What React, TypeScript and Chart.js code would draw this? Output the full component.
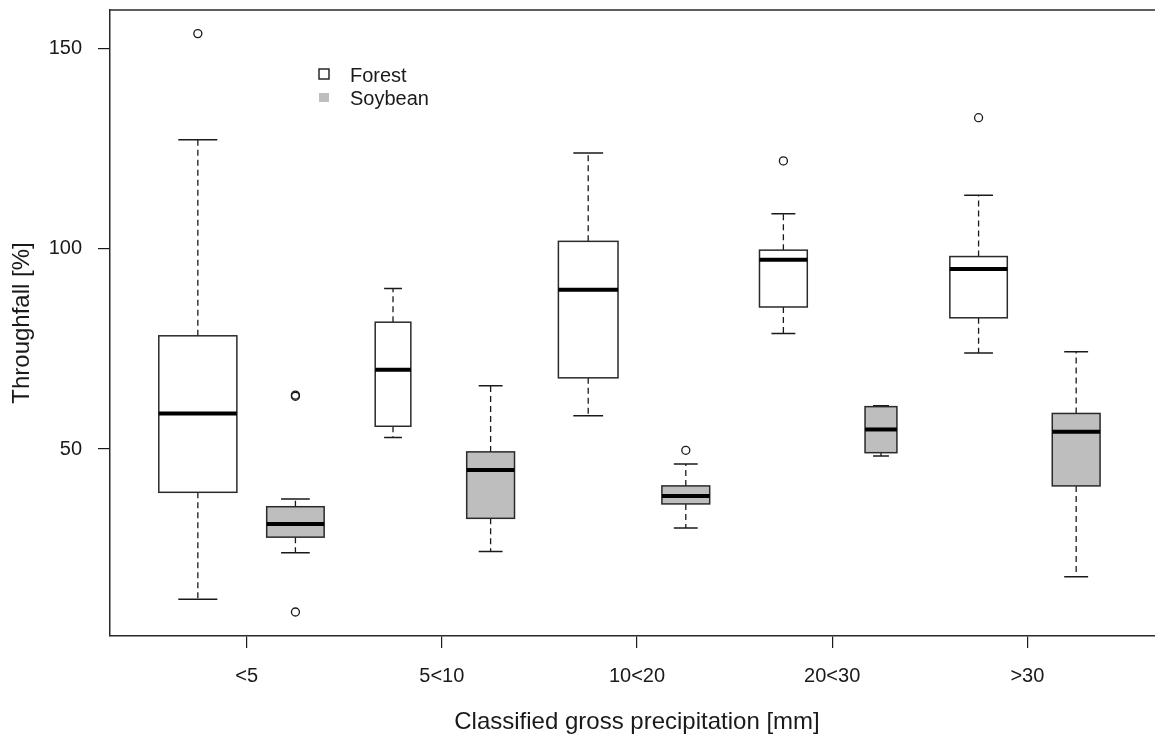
import React, { useEffect, useRef } from "react";
import { Chart, registerables } from "chart.js";

Chart.register(...registerables);

// ---------------- data ----------------
const categories = ["<5", "5<10", "10<20", "20<30", ">30"];
const groupNames = ["Forest", "Soybean"];
const yTickValues = [50, 100, 150];

const forestLowerWhisker = [12.5, 52.9, 58.3, 78.9, 74.0];
const forestQ1 = [39.2, 55.7, 67.8, 85.5, 82.8];
const forestMedian = [58.9, 69.8, 89.8, 97.3, 95.0];
const forestQ3 = [78.3, 81.7, 101.9, 99.7, 98.1];
const forestUpperWhisker = [127.3, 90.1, 124.0, 108.8, 113.4];
const forestOutliers = [[153.8], [], [], [122.0], [132.8]];
const forestN = [24, 5, 14, 9, 13];

const soyLowerWhisker = [24.1, 24.4, 30.3, 48.3, 18.1];
const soyQ1 = [28.0, 32.7, 36.3, 49.1, 40.8];
const soyMedian = [31.3, 44.8, 38.3, 54.9, 54.3];
const soyQ3 = [35.6, 49.3, 40.8, 60.6, 58.9];
const soyUpperWhisker = [37.5, 65.8, 46.3, 60.8, 74.3];
const soyOutliers = [[63.5, 63.2, 9.3], [], [49.7], [], []];
const soyN = [13, 9, 9, 4, 9];

// ---------------- styles ----------------
const FONT = "'Liberation Sans', Arial, Helvetica, sans-serif";
const INK = "#1a1a1a";
const groupFill = ["#ffffff", "#bebebe"];

type Box = {
  pos: number;
  lo: number;
  q1: number;
  med: number;
  q3: number;
  hi: number;
  n: number;
  group: number;
};

const boxes: Box[] = [];
categories.forEach((_, i) => {
  boxes.push({
    pos: 2 * i + 1,
    lo: forestLowerWhisker[i],
    q1: forestQ1[i],
    med: forestMedian[i],
    q3: forestQ3[i],
    hi: forestUpperWhisker[i],
    n: forestN[i],
    group: 0,
  });
  boxes.push({
    pos: 2 * i + 2,
    lo: soyLowerWhisker[i],
    q1: soyQ1[i],
    med: soyMedian[i],
    q3: soyQ3[i],
    hi: soyUpperWhisker[i],
    n: soyN[i],
    group: 1,
  });
});
const maxN = Math.max(...forestN, ...soyN);

const forestOutlierPoints = forestOutliers.flatMap((arr, i) =>
  arr.map((v) => ({ x: 2 * i + 1, y: v }))
);
const soyOutlierPoints = soyOutliers.flatMap((arr, i) =>
  arr.map((v) => ({ x: 2 * i + 2, y: v }))
);

const boxPlugin = {
  id: "boxplots",
  beforeDatasetsDraw(chart: any) {
    const { ctx, scales } = chart;
    const xs = scales.x;
    const ys = scales.y;
    const unit = xs.getPixelForValue(1) - xs.getPixelForValue(0);
    ctx.save();
    boxes.forEach((b) => {
      const cx = xs.getPixelForValue(b.pos);
      const hw = 0.4 * Math.sqrt(b.n / maxN) * unit;
      const yLo = ys.getPixelForValue(b.lo);
      const yQ1 = ys.getPixelForValue(b.q1);
      const yMed = ys.getPixelForValue(b.med);
      const yQ3 = ys.getPixelForValue(b.q3);
      const yHi = ys.getPixelForValue(b.hi);

      // whiskers (dashed)
      ctx.strokeStyle = INK;
      ctx.lineWidth = 1.3;
      ctx.setLineDash([6, 4]);
      ctx.beginPath();
      ctx.moveTo(cx, yQ3);
      ctx.lineTo(cx, yHi);
      ctx.moveTo(cx, yQ1);
      ctx.lineTo(cx, yLo);
      ctx.stroke();
      ctx.setLineDash([]);

      // staples
      ctx.lineWidth = 1.5;
      ctx.beginPath();
      ctx.moveTo(cx - hw / 2, yHi);
      ctx.lineTo(cx + hw / 2, yHi);
      ctx.moveTo(cx - hw / 2, yLo);
      ctx.lineTo(cx + hw / 2, yLo);
      ctx.stroke();

      // box
      ctx.fillStyle = groupFill[b.group];
      ctx.fillRect(cx - hw, yQ3, 2 * hw, yQ1 - yQ3);
      ctx.lineWidth = 1.5;
      ctx.strokeStyle = "#2a2a2a";
      ctx.strokeRect(cx - hw, yQ3, 2 * hw, yQ1 - yQ3);

      // median
      ctx.strokeStyle = "#000";
      ctx.lineWidth = 4;
      ctx.lineCap = "butt";
      ctx.beginPath();
      ctx.moveTo(cx - hw, yMed);
      ctx.lineTo(cx + hw, yMed);
      ctx.stroke();
    });
    ctx.restore();
  },
  afterDraw(chart: any) {
    const { ctx, chartArea } = chart;
    ctx.save();
    // top frame line
    ctx.strokeStyle = "#2a2a2a";
    ctx.lineWidth = 1.5;
    ctx.beginPath();
    ctx.moveTo(chartArea.left, chartArea.top);
    ctx.lineTo(chartArea.right + 20, chartArea.top);
    ctx.stroke();

    // legend
    const lx = chartArea.left + 214;
    const ly = chartArea.top + 64;
    ctx.lineWidth = 1.4;
    ctx.strokeStyle = INK;
    ctx.strokeRect(lx - 5, ly - 5, 10, 10);
    ctx.fillStyle = groupFill[1];
    ctx.fillRect(lx - 5, ly + 19, 10, 9);
    ctx.fillStyle = INK;
    ctx.font = `20px ${FONT}`;
    ctx.textAlign = "left";
    ctx.textBaseline = "alphabetic";
    ctx.fillText(groupNames[0], lx + 26, ly + 7.5);
    ctx.fillText(groupNames[1], lx + 26, ly + 31);
    ctx.restore();
  },
};

export default function App() {
  const ref = useRef<HTMLCanvasElement>(null);

  useEffect(() => {
    const canvas = ref.current;
    if (!canvas) return;
    const chart = new Chart(canvas, {
      type: "scatter",
      data: {
        datasets: [
          {
            label: groupNames[0],
            data: forestOutlierPoints,
            pointRadius: 4,
            pointBorderWidth: 1.3,
            pointBorderColor: INK,
            pointBackgroundColor: "rgba(0,0,0,0)",
          },
          {
            label: groupNames[1],
            data: soyOutlierPoints,
            pointRadius: 4,
            pointBorderWidth: 1.3,
            pointBorderColor: INK,
            pointBackgroundColor: "rgba(0,0,0,0)",
          },
        ],
      },
      options: {
        responsive: false,
        animation: false,
        devicePixelRatio: 1,
        events: [],
        layout: { padding: { left: 0, top: 10, right: 16, bottom: 0 } },
        plugins: {
          legend: { display: false },
          tooltip: { enabled: false },
        },
        scales: {
          x: {
            type: "linear",
            position: "bottom",
            min: 0.1,
            max: 10.9,
            afterBuildTicks: (s: any) => {
              s.ticks = categories.map((_, i) => ({ value: 2 * i + 1.5 }));
            },
            afterFit: (s: any) => {
              s.height = 104;
              s.paddingLeft = 0;
              s.paddingRight = 0;
              s.paddingTop = 0;
              s.paddingBottom = 0;
            },
            ticks: {
              autoSkip: false,
              maxRotation: 0,
              minRotation: 0,
              padding: 16,
              color: INK,
              font: { family: FONT, size: 20 },
              callback: (_v: any, i: number) => categories[i],
            },
            grid: {
              display: true,
              drawOnChartArea: false,
              drawTicks: true,
              tickLength: 12,
              color: INK,
              lineWidth: 1.2,
            },
            border: { display: true, color: "#2a2a2a", width: 1.5 },
            title: {
              display: true,
              text: "Classified gross precipitation [mm]",
              color: INK,
              font: { family: FONT, size: 24 },
              padding: { top: 0, bottom: 3 },
            },
          },
          y: {
            type: "linear",
            position: "left",
            min: 3.3,
            max: 159.7,
            afterBuildTicks: (s: any) => {
              s.ticks = yTickValues.map((v) => ({ value: v }));
            },
            afterFit: (s: any) => {
              s.width = 110;
              s.paddingLeft = 0;
              s.paddingRight = 0;
              s.paddingTop = 0;
              s.paddingBottom = 0;
            },
            ticks: {
              padding: 16,
              color: INK,
              font: { family: FONT, size: 20 },
              callback: (v: any) => String(v),
            },
            grid: {
              display: true,
              drawOnChartArea: false,
              drawTicks: true,
              tickLength: 12,
              color: INK,
              lineWidth: 1.2,
            },
            border: { display: true, color: "#2a2a2a", width: 1.5 },
            title: {
              display: true,
              text: "Throughfall [%]",
              color: INK,
              font: { family: FONT, size: 24 },
              padding: { top: 8, bottom: 0 },
            },
          },
        },
      } as any,
      plugins: [boxPlugin],
    });
    return () => chart.destroy();
  }, []);

  return (
    <div
      style={{
        position: "fixed",
        left: 0,
        top: 0,
        width: 1155,
        height: 740,
        overflow: "hidden",
        background: "#fff",
      }}
    >
      <canvas
        ref={ref}
        width={1180}
        height={740}
        style={{ display: "block", width: 1180, height: 740 }}
      />
    </div>
  );
}
